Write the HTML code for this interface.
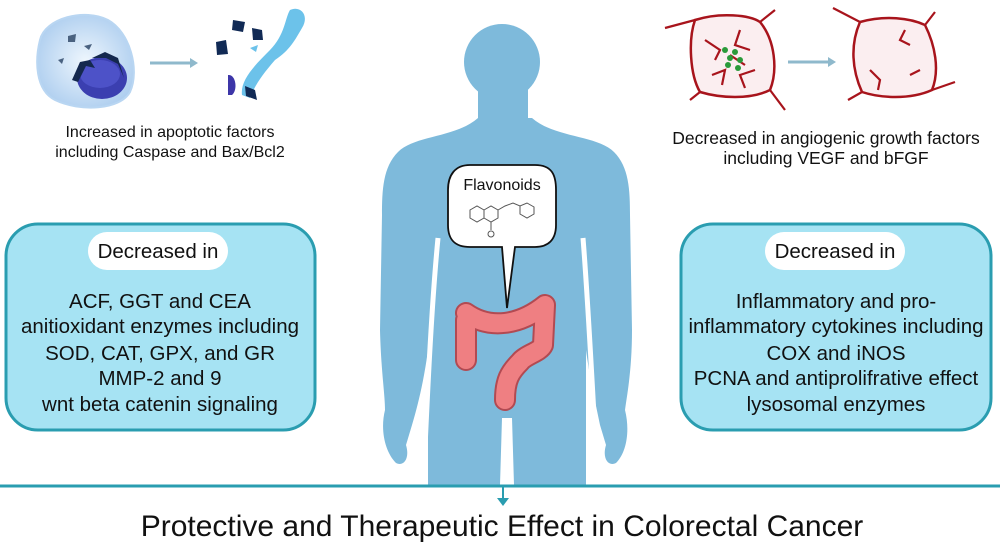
<!DOCTYPE html>
<html><head><meta charset="utf-8"><style>
body{margin:0;background:#fff;}
svg{display:block;font-family:"Liberation Sans",sans-serif;}
</style></head><body>
<svg width="1000" height="547" viewBox="0 0 1000 547" xmlns="http://www.w3.org/2000/svg">
<defs>
<radialGradient id="cg" cx="0.5" cy="0.5" r="0.6"><stop offset="0" stop-color="#eef6fd"/><stop offset="1" stop-color="#a9cbee"/></radialGradient>
</defs>
<!-- apoptotic cell -->
<path d="M40,40 C45,18 85,8 108,20 C130,32 140,70 130,92 C120,110 80,112 55,100 C35,90 35,60 40,40Z" fill="url(#cg)" stroke="#b9d6f2" stroke-width="2"/>
<ellipse cx="102" cy="78" rx="25" ry="21" fill="#3b3fb0"/>
<ellipse cx="100" cy="74" rx="20" ry="14" fill="#4d52c8"/>
<path d="M72,80 L80,62 L90,60 L95,68 L86,66 L78,82Z M92,58 L105,52 L118,58 L124,78 L118,64 L106,58Z" fill="#14284e"/>
<path d="M68,36 L76,34 L75,42 L68,42Z M84,46 L92,44 L89,50Z M58,60 L64,58 L62,64Z" fill="#4a6280"/>
<line x1="150" y1="63" x2="190" y2="63" stroke="#8fb9cc" stroke-width="3"/>
<path d="M190,58 L198,63 L190,68Z" fill="#8fb9cc"/>
<path d="M233,20 L245,22 L243,32 L232,30Z M252,28 L262,30 L263,40 L253,40Z M216,42 L226,40 L228,54 L217,55Z" fill="#112a55"/>
<path d="M290,10 C300,5 310,15 302,28 C295,40 290,50 275,60 C262,75 255,85 250,98 L242,95 C240,80 255,65 270,50 C285,35 285,18 290,10Z" fill="#6cc2ea"/>
<path d="M250,48 L258,45 L256,52Z" fill="#6cc2ea"/>
<path d="M228,75 C236,74 238,90 232,95 L228,95Z" fill="#3d36a8"/>
<path d="M245,86 L255,90 L257,100 L246,96Z" fill="#112a55"/>
<text x="170" y="137" font-size="16" text-anchor="middle" fill="#111">Increased in apoptotic factors</text>
<text x="170" y="157" font-size="16" text-anchor="middle" fill="#111">including Caspase and Bax/Bcl2</text>

<!-- angiogenesis -->
<g fill="#fbeef0" stroke="#a8141c" stroke-width="2.5">
<path d="M695,20 C720,12 750,15 760,22 C775,40 778,70 770,90 C750,100 720,98 700,92 C690,75 688,40 695,20Z"/>
<path d="M860,22 C885,15 910,18 925,25 C935,45 940,70 932,90 C910,100 880,98 862,92 C852,70 850,45 860,22Z"/>
</g>
<g stroke="#a8141c" stroke-width="2.2" fill="none">
<path d="M695,20 L665,28 M760,22 L775,10 M770,90 L785,110 M700,92 L690,100"/>
<path d="M860,22 L833,8 M925,25 L935,12 M932,90 L955,82 M862,92 L848,100"/>
<path d="M705,40 L720,50 L715,60 M740,30 L735,45 L750,50 M755,70 L740,75 L745,88 M712,75 L725,70 L722,85 M730,55 L745,65"/>
<path d="M870,70 L880,80 L878,90 M905,30 L900,40 L910,45 M920,70 L910,75"/>
</g>
<g fill="#2a9a3a"><circle cx="725" cy="50" r="3"/><circle cx="735" cy="52" r="3"/><circle cx="730" cy="58" r="3"/><circle cx="740" cy="60" r="3"/><circle cx="728" cy="65" r="3"/><circle cx="738" cy="68" r="3"/></g>
<line x1="788" y1="62" x2="828" y2="62" stroke="#8fb9cc" stroke-width="3"/>
<path d="M828,57 L836,62 L828,67Z" fill="#8fb9cc"/>
<text x="826" y="144" font-size="17.5" text-anchor="middle" fill="#111">Decreased in angiogenic growth factors</text>
<text x="826" y="164" font-size="17.5" text-anchor="middle" fill="#111">including VEGF and bFGF</text>

<!-- body -->
<g fill="#7ebadb">
<ellipse cx="502" cy="62" rx="38" ry="38"/>
<rect x="478" y="85" width="50" height="45"/>
<path d="M478,118 C455,138 415,135 398,152 C383,167 382,190 382,215 L380,330 C381,370 385,395 385,410 C380,430 385,452 396,463 C404,467 410,458 406,445 L412,425 C418,405 424,380 428,350 L428,485 L500,485 L502,418 L512,418 L514,485 L586,485 L586,350 C590,380 596,405 600,425 L606,445 C602,458 608,467 616,463 C627,452 630,430 625,410 C627,395 632,370 632,330 L630,215 C630,190 629,167 614,152 C597,135 555,138 532,118 Z"/>
</g>
<path d="M438,238 C432,300 428,380 424,470" stroke="#fff" stroke-width="5" fill="none"/>
<path d="M583,238 C588,300 592,380 597,470" stroke="#fff" stroke-width="5" fill="none"/>

<!-- speech bubble -->
<path d="M470,165 L535,165 C552,165 556,175 556,190 L556,225 C556,240 548,247 535,247 L515,247 L507,308 L502,247 L470,247 C455,247 448,240 448,225 L448,190 C448,175 455,165 470,165Z" fill="#fff" stroke="#111" stroke-width="1.8"/>
<text x="502" y="190" font-size="16" text-anchor="middle" fill="#111">Flavonoids</text>
<g stroke="#555" stroke-width="1" fill="none">
<path d="M470,210 L477,206 L484,210 L484,218 L477,222 L470,218Z"/>
<path d="M484,210 L491,206 L498,210 L498,218 L491,222 L484,218"/>
<path d="M491,222 L491,230 M498,210 L505,206 L513,203 L520,206 L527,203 L534,207 L534,214 L527,218 L520,214 L520,206"/>
</g>
<circle cx="491" cy="234" r="3" fill="none" stroke="#555"/>

<!-- colon -->
<g fill="none" stroke-linecap="round" stroke-linejoin="round">
<path d="M466,320 L466,360 M466,313 C490,330 520,325 545,305 L543,345 C540,352 525,355 520,362 C510,372 505,380 505,400" stroke="#b24a52" stroke-width="22"/>
<path d="M466,320 L466,360 M466,313 C490,330 520,325 545,305 L543,345 C540,352 525,355 520,362 C510,372 505,380 505,400" stroke="#ef7f82" stroke-width="18"/>
</g>

<!-- left box -->
<rect x="6" y="224" width="309" height="206" rx="32" fill="#a6e3f3" stroke="#2a9db0" stroke-width="3"/>
<rect x="88" y="232" width="140" height="38" rx="19" fill="#fff"/>
<g font-size="20.5" text-anchor="middle" fill="#111">
<text x="158" y="258">Decreased in</text>
<text x="160" y="308">ACF, GGT and CEA</text>
<text x="160" y="333">anitioxidant enzymes including</text>
<text x="160" y="360">SOD, CAT, GPX, and GR</text>
<text x="160" y="385">MMP-2 and 9</text>
<text x="160" y="411">wnt beta catenin signaling</text>
</g>
<!-- right box -->
<rect x="681" y="224" width="310" height="206" rx="32" fill="#a6e3f3" stroke="#2a9db0" stroke-width="3"/>
<rect x="765" y="232" width="140" height="38" rx="19" fill="#fff"/>
<g font-size="20.5" text-anchor="middle" fill="#111">
<text x="835" y="258">Decreased in</text>
<text x="836" y="308">Inflammatory and pro-</text>
<text x="836" y="333">inflammatory cytokines including</text>
<text x="836" y="360">COX and iNOS</text>
<text x="836" y="385">PCNA and antiprolifrative effect</text>
<text x="836" y="411">lysosomal enzymes</text>
</g>

<!-- bottom -->
<line x1="0" y1="486" x2="1000" y2="486" stroke="#2a9db0" stroke-width="3"/>
<line x1="503" y1="486" x2="503" y2="500" stroke="#2a9db0" stroke-width="2"/>
<path d="M497,498 L503,506 L509,498Z" fill="#2a9db0"/>
<text x="502" y="536" font-size="30" text-anchor="middle" fill="#111">Protective and Therapeutic Effect in Colorectal Cancer</text>
</svg>
</body></html>
